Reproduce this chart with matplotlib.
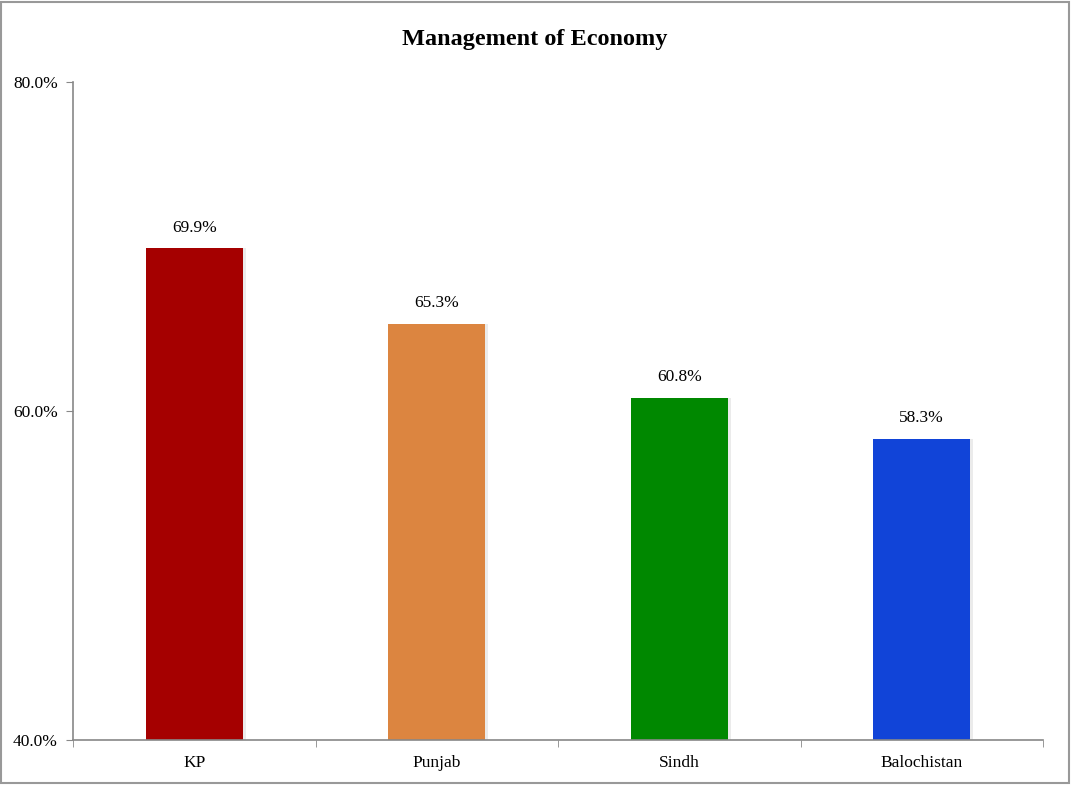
import matplotlib
matplotlib.use("Agg")
import matplotlib.pyplot as plt
from matplotlib.patches import Rectangle
from matplotlib.ticker import FixedLocator, FuncFormatter

categories = ["KP", "Punjab", "Sindh", "Balochistan"]
values = [69.9, 65.3, 60.8, 58.3]
colors = ["#A50000", "#DC8540", "#008800", "#1144D8"]
yticks = [40, 60, 80]
title = "Management of Economy"

plt.rcParams['font.family'] = ['Liberation Serif', 'DejaVu Serif']

fig = plt.figure(figsize=(10.71, 7.85), dpi=100)
W, H = 1071, 785
ax = fig.add_axes([73 / W, 1 - 740 / H, (1043 - 73) / W, (740 - 82) / H])

x = list(range(len(categories)))
# subtle shadow
for xi, v in zip(x, values):
    ax.bar(xi + 0.012, v - 40, bottom=40, width=0.4, color="#000000", alpha=0.08, zorder=1)
bars = ax.bar(x, [v - 40 for v in values], bottom=40, width=0.4, color=colors, zorder=2)

for xi, v in zip(x, values):
    ax.annotate(f"{v:.1f}%", xy=(xi, v), xytext=(0, 9), textcoords="offset points",
                ha="center", va="bottom", fontsize=12.5)

ax.set_xlim(-0.5, len(categories) - 0.5)
ax.set_ylim(40, 80)
ax.yaxis.set_major_locator(FixedLocator(yticks))
ax.yaxis.set_major_formatter(FuncFormatter(lambda v, p: f"{v:.1f}%"))
ax.set_xticks(x)
ax.set_xticklabels(categories, fontsize=12.5)
ax.xaxis.set_minor_locator(FixedLocator([i - 0.5 for i in range(len(categories) + 1)]))
ax.tick_params(axis="x", which="major", length=0, pad=11)
ax.tick_params(axis="x", which="minor", length=5, color="#888888", direction="out")
ax.tick_params(axis="y", length=5, color="#888888", direction="out", labelsize=12.5, pad=6)

for s in ["top", "right"]:
    ax.spines[s].set_visible(False)
for s in ["left", "bottom"]:
    ax.spines[s].set_color("#888888")
    ax.spines[s].set_linewidth(1.2)

fig.text(535 / W, 1 - 40 / H, title, ha="center", va="center", fontsize=17.5, fontweight="bold")

fig.patches.append(Rectangle((0.001, 0.002), 0.997, 0.996, transform=fig.transFigure,
                             fill=False, edgecolor="#999999", linewidth=1.5))

fig.savefig("out.png", dpi=100)
